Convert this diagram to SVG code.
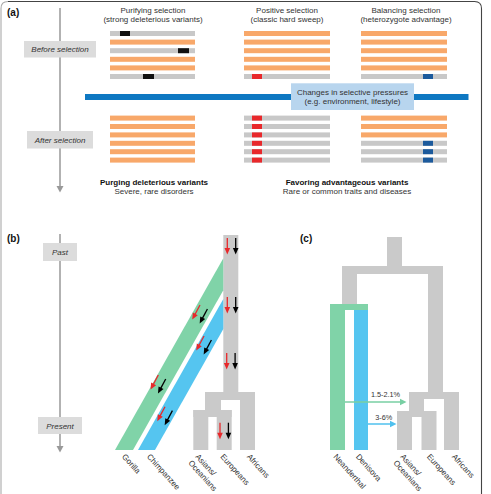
<svg xmlns="http://www.w3.org/2000/svg" width="491" height="494" viewBox="0 0 491 494">
<style>
text{font-family:"Liberation Sans",Arial,sans-serif;fill:#222}
.t{font-size:8px;text-anchor:middle;fill:#333}
.b{font-size:8px;font-weight:bold;text-anchor:middle;fill:#111}
.lab{font-size:10px;font-weight:bold;fill:#111}
.it{font-size:8px;font-style:italic;text-anchor:middle;fill:#333}
.leaf{font-size:8px;fill:#333}
.o{fill:#f8a86a}
.g{fill:#c8c8c8}
.k{fill:#111}
.r{fill:#e8282b}
.db{fill:#1c5a9c}
.tree{fill:#cacaca}
.gr{fill:#80d3a8}
.bl{fill:#55c5f0}
.box{fill:#dcdcdc}
.tl{stroke:#999;stroke-width:1.5}
</style>
<defs>
<g id="pair">
<line x1="0" y1="0" x2="0" y2="11" stroke="#e8282b" stroke-width="1.3"/>
<path d="M-2.8,10 L2.8,10 L0,16.5 Z" fill="#e8282b"/>
<line x1="8.4" y1="0" x2="8.4" y2="11" stroke="#000" stroke-width="1.3"/>
<path d="M5.6,10 L11.2,10 L8.4,16.5 Z" fill="#000"/>
</g>
</defs>
<path d="M1,531 L1,8.5 Q1,1.5 8,1.5" fill="none" stroke="#aaa" stroke-width="1.1"/>
<path d="M8,1.5 L474.5,1.5 Q481.5,1.5 481.5,8.5 L481.5,531" fill="none" stroke="#444" stroke-width="1.1"/>

<!-- Panel a -->
<g id="panel-a">
<text class="lab" x="7" y="15.5">(a)</text>
<g id="timeline-a">
<line class="tl" x1="60" y1="8" x2="60" y2="187"/>
<path d="M56.5,186 L63.5,186 L60,192.5 Z" fill="#999"/>
</g>
<g id="before-box"><rect class="box" x="24" y="41" width="72" height="16.5"/><text class="it" x="60" y="52.3">Before selection</text></g>
<g id="after-box"><rect class="box" x="27" y="131" width="66" height="17.5"/><text class="it" x="60" y="142.8">After selection</text></g>

<text class="t" x="153" y="12.5">Purifying selection</text>
<text class="t" x="153" y="21.8">(strong deleterious variants)</text>
<text class="t" x="287" y="12.5">Positive selection</text>
<text class="t" x="287" y="21.8">(classic hard sweep)</text>
<text class="t" x="406" y="12.5">Balancing selection</text>
<text class="t" x="406" y="21.8">(heterozygote advantage)</text>

<g id="purifying-before">
<rect class="g" x="110" y="31" width="85" height="5"/><rect class="k" x="120" y="31" width="10" height="5"/>
<rect class="o" x="110" y="39.6" width="85" height="5"/>
<rect class="g" x="110" y="48.2" width="85" height="5"/><rect class="k" x="178" y="48.2" width="11" height="5"/>
<rect class="o" x="110" y="56.8" width="85" height="5"/>
<rect class="o" x="110" y="65.4" width="85" height="5"/>
<rect class="g" x="110" y="74" width="85" height="5"/><rect class="k" x="143" y="74" width="11" height="5"/>
</g>
<g id="positive-before">
<rect class="o" x="244" y="31" width="86" height="5"/>
<rect class="o" x="244" y="39.6" width="86" height="5"/>
<rect class="o" x="244" y="48.2" width="86" height="5"/>
<rect class="o" x="244" y="56.8" width="86" height="5"/>
<rect class="o" x="244" y="65.4" width="86" height="5"/>
<rect class="g" x="244" y="74" width="86" height="5"/><rect class="r" x="252" y="74" width="10" height="5"/>
</g>
<g id="balancing-before">
<rect class="o" x="361" y="31" width="86" height="5"/>
<rect class="o" x="361" y="39.6" width="86" height="5"/>
<rect class="o" x="361" y="48.2" width="86" height="5"/>
<rect class="o" x="361" y="56.8" width="86" height="5"/>
<rect class="o" x="361" y="65.4" width="86" height="5"/>
<rect class="g" x="361" y="74" width="86" height="5"/><rect class="db" x="423" y="74" width="10" height="5"/>
</g>

<g id="pressure">
<rect x="85" y="94" width="383.5" height="6" fill="#0e78c2"/>
<rect x="291" y="83.3" width="123" height="26.7" fill="#b8d5ee"/>
<text class="t" x="352.5" y="95">Changes in selective pressures</text>
<text class="t" x="352.5" y="104">(e.g. environment, lifestyle)</text>
</g>

<g id="purifying-after">
<rect class="o" x="110" y="115.6" width="85" height="5"/>
<rect class="o" x="110" y="124" width="85" height="5"/>
<rect class="o" x="110" y="132.4" width="85" height="5"/>
<rect class="o" x="110" y="140.8" width="85" height="5"/>
<rect class="o" x="110" y="149.2" width="85" height="5"/>
<rect class="o" x="110" y="157.6" width="85" height="5"/>
</g>
<g id="positive-after">
<rect class="g" x="244" y="115.6" width="86" height="5"/><rect class="r" x="252" y="115.6" width="10" height="5"/>
<rect class="g" x="244" y="124" width="86" height="5"/><rect class="r" x="252" y="124" width="10" height="5"/>
<rect class="g" x="244" y="132.4" width="86" height="5"/><rect class="r" x="252" y="132.4" width="10" height="5"/>
<rect class="g" x="244" y="140.8" width="86" height="5"/><rect class="r" x="252" y="140.8" width="10" height="5"/>
<rect class="g" x="244" y="149.2" width="86" height="5"/><rect class="r" x="252" y="149.2" width="10" height="5"/>
<rect class="g" x="244" y="157.6" width="86" height="5"/><rect class="r" x="252" y="157.6" width="10" height="5"/>
</g>
<g id="balancing-after">
<rect class="o" x="361" y="115.6" width="86" height="5"/>
<rect class="o" x="361" y="124" width="86" height="5"/>
<rect class="o" x="361" y="132.4" width="86" height="5"/>
<rect class="g" x="361" y="140.8" width="86" height="5"/><rect class="db" x="423" y="140.8" width="10" height="5"/>
<rect class="g" x="361" y="149.2" width="86" height="5"/><rect class="db" x="423" y="149.2" width="10" height="5"/>
<rect class="g" x="361" y="157.6" width="86" height="5"/><rect class="db" x="423" y="157.6" width="10" height="5"/>
</g>

<text class="b" x="154" y="184.5">Purging deleterious variants</text>
<text class="t" x="154" y="194">Severe, rare disorders</text>
<text class="b" x="347" y="184.5">Favoring advantageous variants</text>
<text class="t" x="347" y="194">Rare or common traits and diseases</text>
</g>

<!-- Panel b -->
<g id="panel-b">
<text class="lab" x="7" y="242">(b)</text>
<g id="timeline-b">
<line class="tl" x1="60" y1="234" x2="60" y2="447"/>
<path d="M56.5,446 L63.5,446 L60,452.5 Z" fill="#999"/>
</g>
<g id="past-box"><rect class="box" x="43" y="243" width="34" height="18"/><text class="it" x="60" y="255">Past</text></g>
<g id="present-box"><rect class="box" x="38" y="417" width="44" height="17"/><text class="it" x="60" y="428.5">Present</text></g>

<g id="tree-b">
<rect class="tree" x="223.3" y="235" width="15" height="157.5"/>
<rect class="tree" x="205" y="392" width="50" height="8"/>
<rect class="tree" x="240" y="392" width="15" height="58"/>
<rect class="tree" x="205" y="392" width="16" height="19"/>
<rect class="tree" x="193.3" y="410" width="38.4" height="7"/>
<rect class="tree" x="193.3" y="410" width="15" height="40"/>
<rect class="tree" x="216.7" y="410" width="15" height="40"/>
</g>
<g id="gorilla-band"><polygon class="gr" points="115,450 133,450 223.3,290.2 223.3,258.3"/></g>
<g id="chimp-band"><polygon class="bl" points="138,450 155,450 223.3,329.1 223.3,299"/></g>

<g id="arrows-b">
<use href="#pair" transform="translate(227.3,238)"/>
<use href="#pair" transform="translate(227.3,297)"/>
<use href="#pair" transform="translate(226.7,353)"/>
<use href="#pair" transform="translate(220,422.7)"/>
<use href="#pair" transform="translate(200,305) rotate(28)"/>
<use href="#pair" transform="translate(204,336) rotate(28)"/>
<use href="#pair" transform="translate(158.3,375) rotate(28)"/>
<use href="#pair" transform="translate(165,406.7) rotate(28)"/>
</g>

<text class="leaf" transform="translate(121.5,457) rotate(48)">Gorilla</text>
<text class="leaf" transform="translate(146.5,457) rotate(48)">Chimpanzee</text>
<text class="leaf" transform="translate(195,457) rotate(48)">Asians/<tspan x="0" dy="9.5">Oceanians</tspan></text>
<text class="leaf" transform="translate(220,457) rotate(48)">Europeans</text>
<text class="leaf" transform="translate(246.5,457) rotate(48)">Africans</text>
</g>

<!-- Panel c -->
<g id="panel-c">
<text class="lab" x="300" y="242">(c)</text>
<g id="tree-c">
<rect class="tree" x="387" y="237" width="15" height="30"/>
<rect class="tree" x="342" y="266" width="101" height="8"/>
<rect class="tree" x="342" y="266" width="15" height="38"/>
<rect class="tree" x="428" y="266" width="15" height="126.5"/>
<rect class="tree" x="409" y="392" width="50" height="7"/>
<rect class="tree" x="444" y="392" width="15" height="58"/>
<rect class="tree" x="409" y="392" width="15" height="19.5"/>
<rect class="tree" x="397" y="411" width="39" height="6"/>
<rect class="tree" x="397" y="411" width="15" height="39"/>
<rect class="tree" x="421.5" y="411" width="15" height="39"/>
</g>
<g id="neanderthal">
<rect class="gr" x="330" y="304" width="38" height="6"/>
<rect class="gr" x="330" y="304" width="15" height="146"/>
</g>
<g id="denisova"><rect class="bl" x="354" y="310" width="14" height="140"/></g>
<g id="introgression">
<line x1="345" y1="402" x2="401" y2="402" stroke="#78cfa3" stroke-width="1.5"/>
<path d="M400,398.8 L406.5,402 L400,405.2 Z" fill="#78cfa3"/>
<line x1="368" y1="424" x2="391" y2="424" stroke="#4fc0ee" stroke-width="1.5"/>
<path d="M390,420.8 L396.5,424 L390,427.2 Z" fill="#4fc0ee"/>
</g>
<text class="t" x="385.5" y="397" style="font-size:7.3px">1.5-2.1%</text>
<text class="t" x="383.7" y="419.5" style="font-size:7.3px">3-6%</text>

<text class="leaf" transform="translate(333,457) rotate(48)">Neanderthal</text>
<text class="leaf" transform="translate(355.5,457) rotate(48)">Denisova</text>
<text class="leaf" transform="translate(400,457) rotate(48)">Asians/<tspan x="0" dy="9.5">Oceanians</tspan></text>
<text class="leaf" transform="translate(426.5,457) rotate(48)">Europeans</text>
<text class="leaf" transform="translate(451.5,457) rotate(48)">Africans</text>
</g>
</svg>
